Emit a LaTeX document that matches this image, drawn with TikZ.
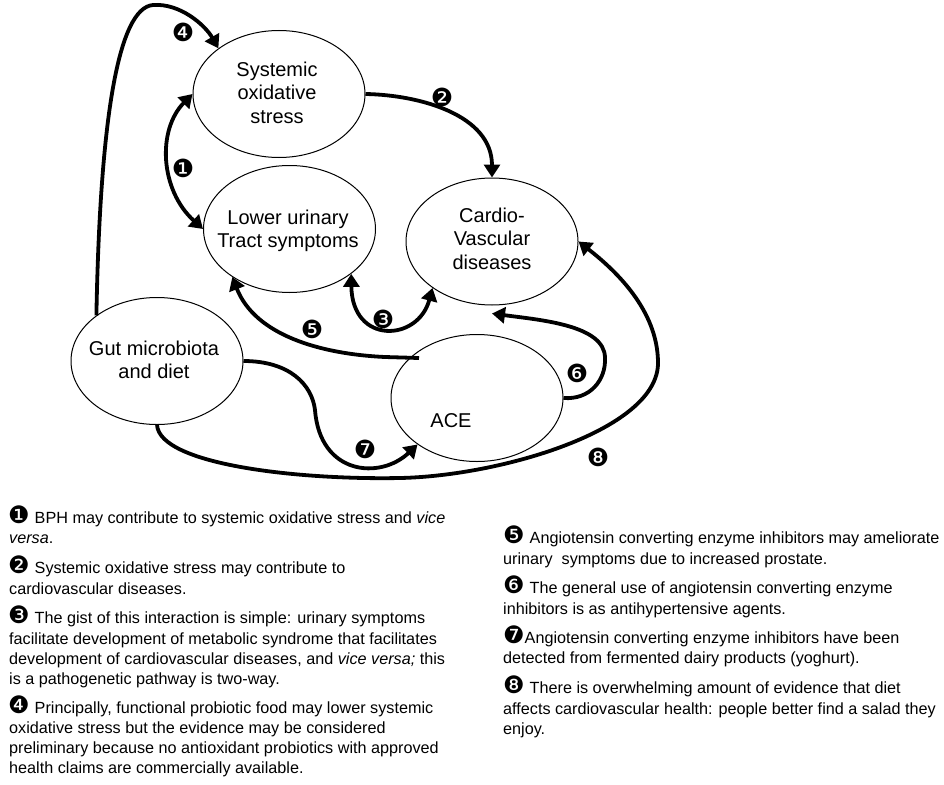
\documentclass[tikz,border=0pt]{standalone}
\usepackage{fontspec}
\setmainfont{Liberation Sans}
\newfontfamily\dingfont{DejaVu Sans}
\usetikzlibrary{arrows.meta,shapes.geometric}
\newcommand{\cnum}[1]{{\dingfont\fontsize{24}{24}\selectfont #1}}
\begin{document}
\begin{tikzpicture}[x=1pt,y=-1pt,
  bubble/.style={draw, ellipse, line width=1pt, minimum width=172pt, minimum height=127pt, inner sep=0pt},
  btext/.style={align=center, inner sep=0pt, font=\fontsize{20}{23.5}\selectfont},
  conn/.style={line width=3.8pt, -{Triangle[length=13pt,width=16pt]}},
  biconn/.style={line width=3.8pt, {Triangle[length=13pt,width=16pt]}-{Triangle[length=13pt,width=16pt]}},
  numlab/.style={inner sep=0pt, font=\dingfont\fontsize{25}{25}\selectfont},
  txt/.style={anchor=base west, inner sep=0pt, font=\fontsize{16.2}{20}\selectfont}
]
\useasboundingbox (0,0) rectangle (944,784);
\fill[white] (0,0) rectangle (944,784);

% ellipses
\node[bubble] (sos) at (279,94) {};
\node[bubble] (luts) at (289.5,229) {};
\node[bubble] (cvd) at (492,241.5) {};
\node[bubble] (gut) at (157,361) {};
\node[bubble] (ace) at (477,398) {};

\node[btext] (sostext) at (277,92.5) {Systemic\\oxidative\\stress};
\node[btext] (lutstext) at (288,231) {Lower urinary\\Tract symptoms};
\node[btext] (cvdtext) at (492,238.5) {Cardio-\\Vascular\\diseases};
\node[btext] (guttext) at (154,360) {Gut microbiota\\and diet};
\node[btext] (acetext) at (451,421) {ACE};

% connectors
\draw[biconn] (sos.west) .. controls (157,130) and (160,190) .. (luts.west);
\draw[conn] (sos.east) .. controls (420,95) and (492,115) .. (cvd.north);
\draw[conn] (gut.143) .. controls (100,120) and (118,8) .. (153,5)
   .. controls (180,3) and (205,25) .. (sos.143);
\draw[biconn] (luts.-36) .. controls (352,345) and (418,342) .. (cvd.218);
\coordinate (c5) at (419,358);
\draw[conn] (c5) -- (385,357) .. controls (320,354) and (255,335) .. (luts.-140);
\coordinate (c6) at ([yshift=-8pt]cvd.south);
\draw[conn] (ace.east) .. controls (590,400) and (606,380) .. (605,358)
   .. controls (605,325) and (540,320) .. (c6);
\draw[conn] (gut.east) .. controls (290,361) and (312,385) .. (315,410)
   .. controls (320,475) and (380,480) .. (ace.218);
\draw[conn] (gut.south) .. controls (160,465) and (300,480) .. (400,478)
   .. controls (500,476) and (658,430) .. (658,363)
   .. controls (658,310) and (615,270) .. (cvd.east);

% number labels
\node[numlab] (n1) at (183,168) {❶};
\node[numlab] (n2) at (442,97) {❷};
\node[numlab] (n3) at (383,319) {❸};
\node[numlab] (n4) at (183,32) {❹};
\node[numlab] (n5) at (312,329) {❺};
\node[numlab] (n6) at (577,373) {❻};
\node[numlab] (n7) at (365,449) {❼};
\node[numlab] (n8) at (598,457) {❽};

% left column text
\node[txt] (t1a) at (8,523) {\cnum{❶}\hspace{5pt}BPH may contribute to systemic oxidative stress and \textit{vice}};
\node[txt] (t1b) at (9,543) {\textit{versa}.};
\node[txt] (t2a) at (8,573) {\cnum{❷}\hspace{5pt}Systemic oxidative stress may contribute to};
\node[txt] (t2b) at (9,594) {cardiovascular diseases.};
\node[txt] (t3a) at (8,623) {\cnum{❸}\hspace{5pt}The gist of this interaction is simple: urinary symptoms};
\node[txt] (t3b) at (9,644) {facilitate development of metabolic syndrome that facilitates};
\node[txt] (t3c) at (9,664) {development of cardiovascular diseases, and \textit{vice versa;} this};
\node[txt] (t3d) at (9,684) {is a pathogenetic pathway is two-way.};
\node[txt] (t4a) at (8,713) {\cnum{❹}\hspace{5pt}Principally, functional probiotic food may lower systemic};
\node[txt] (t4b) at (9,733) {oxidative stress but the evidence may be considered};
\node[txt] (t4c) at (9,753) {preliminary because no antioxidant probiotics with approved};
\node[txt] (t4d) at (9,773) {health claims are commercially available.};

% right column text
\node[txt] (t5a) at (503,543) {\cnum{❺}\hspace{5pt}Angiotensin converting enzyme inhibitors may ameliorate};
\node[txt] (t5b) at (503,564) {urinary\ \ symptoms due to increased prostate.};
\node[txt] (t6a) at (503,593) {\cnum{❻}\hspace{5pt}The general use of angiotensin converting enzyme};
\node[txt] (t6b) at (503,614) {inhibitors is as antihypertensive agents.};
\node[txt] (t7a) at (503,643) {\cnum{❼}Angiotensin converting enzyme inhibitors have been};
\node[txt] (t7b) at (503,663) {detected from fermented dairy products (yoghurt).};
\node[txt] (t8a) at (503,693) {\cnum{❽}\hspace{5pt}There is overwhelming amount of evidence that diet};
\node[txt] (t8b) at (503,714) {affects cardiovascular health: people better find a salad they};
\node[txt] (t8c) at (503,734) {enjoy.};
\end{tikzpicture}
\end{document}
